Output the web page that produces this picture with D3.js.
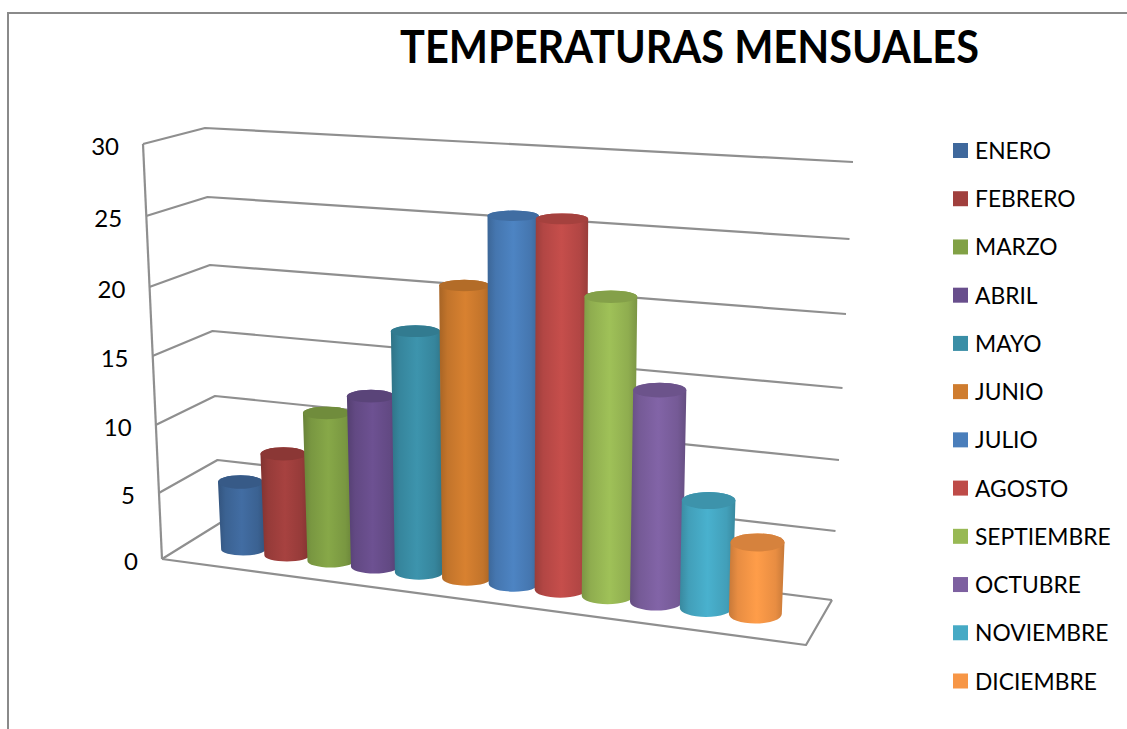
<!DOCTYPE html>
<html lang="es">
<head>
<meta charset="utf-8">
<title>Temperaturas mensuales</title>
<script src="https://cdn.jsdelivr.net/npm/d3@7"></script>
<style>
  html, body { margin: 0; padding: 0; background: #fff; }
  svg { display: block; }
  text { font-family: Lato, "Open Sans", sans-serif; fill: #000; }
</style>
</head>
<body>
<svg id="chart" width="1127" height="729"></svg>
<script>
// Chart content
const chartTitle = "TEMPERATURAS MENSUALES";
const months = ["ENERO", "FEBRERO", "MARZO", "ABRIL", "MAYO", "JUNIO", "JULIO",
                "AGOSTO", "SEPTIEMBRE", "OCTUBRE", "NOVIEMBRE", "DICIEMBRE"];
const temperatures = [5, 7.45, 10.8, 12.35, 17.35, 20.9, 26.1, 26.1, 20.9, 14.7, 7.4, 4.9];
const yTicks = [0, 5, 10, 15, 20, 25, 30];
const seriesColors = ["#3F689C", "#A03F3D", "#81A145", "#684E8C", "#3A8EA6", "#CF7C2E",
                      "#4A7EBB", "#BE4B48", "#98B954", "#7D60A0", "#46AAC5", "#F79646"];

const svg = d3.select("#chart");
const defs = svg.append("defs");
const wallStroke = "#8f8f8f";

// Outer frame of the chart area: only the top and left sides show
svg.append("path")
  .attr("d", "M8,729V13H1127")
  .attr("fill", "none").attr("stroke", "#8a8a8a").attr("stroke-width", 2);

svg.append("text")
  .attr("x", 400).attr("y", 63)
  .attr("font-size", 45).attr("font-weight", 700)
  .attr("textLength", 579).attr("lengthAdjust", "spacingAndGlyphs")
  .text(chartTitle);

// The box seen in perspective: each wall corner has its own value scale
const frontX = d3.scaleLinear().domain([0, 30]).range([162, 143]);
const frontY = d3.scaleLinear().domain(yTicks).range([559, 493, 425, 356, 287, 216, 144]);
const backX  = d3.scaleLinear().domain([0, 30]).range([220, 205]);
const backY  = d3.scaleLinear().domain(yTicks).range([523, 460, 396, 331, 265, 197, 128]);
const rightX = d3.scaleLinear().domain([0, 30]).range([832, 853]);
const rightY = d3.scaleLinear().domain(yTicks).range([600, 531, 460, 388, 314, 239, 162]);

const gridLine = d3.line();
const grid = svg.append("g")
  .attr("fill", "none").attr("stroke", wallStroke).attr("stroke-width", 2.2)
  .attr("stroke-linejoin", "round");

grid.selectAll("path.tick").data(yTicks).join("path")
  .attr("class", "tick")
  .attr("d", v => gridLine([[frontX(v), frontY(v)], [backX(v), backY(v)], [rightX(v), rightY(v)]]));

// Front upright of the side wall, and the two open edges of the floor
grid.append("path")
  .attr("d", gridLine([[frontX(30), frontY(30)], [frontX(0), frontY(0)]]));
const floorCorner = [806, 645];
grid.append("path")
  .attr("d", gridLine([[frontX(0), frontY(0)], floorCorner, [rightX(0), rightY(0)]]));

// Value labels sit a fixed distance left of the upright
svg.append("g").selectAll("text").data(yTicks).join("text")
  .attr("x", v => frontX(v) - 24)
  .attr("y", v => frontY(v) + 10.5)
  .attr("text-anchor", "end")
  .attr("font-size", 24)
  .text(d => d);

// Cylinder placement along the floor, with foreshortening towards the left
const position = d3.scaleLinear().domain([0, 2, 4, 7, 11]).range([240.5, 326.5, 415.5, 562, 757.5]);
const radius   = d3.scaleLinear().domain([0, 7, 11]).range([22.5, 26.2, 27]);
const baseY    = d3.scaleLinear().domain([0, 7, 11]).range([549.5, 589.5, 614]);
const unit     = d3.scaleLinear().domain([0, 11]).range([13.5, 14.6]);
const lean     = d3.scaleLinear().domain([0, 11]).range([0.04, -0.03]);
const rimBase  = d3.scaleLinear().domain([0, 11]).range([7.3, 9.7]);
const rimSlope = d3.scaleLinear().domain([0, 30]).range([0, 3.9]);
const bottomRim = d3.scaleLinear().domain([0, 11]).range([6, 9.5]);

months.forEach((m, i) => {
  const base = d3.color(seriesColors[i]);
  const grad = defs.append("linearGradient").attr("id", "side-" + i);
  [[0, base.darker(0.6)], [0.16, base.darker(0.18)], [0.5, base.brighter(0.12)],
   [0.84, base.darker(0.18)], [1, base.darker(0.6)]].forEach(([o, c]) => {
    grad.append("stop").attr("offset", o).attr("stop-color", c.formatHex());
  });
});

const bars = svg.append("g").selectAll("g")
  .data(months.map((m, i) => ({ month: m, value: temperatures[i], i })))
  .join("g");

bars.append("path")
  .attr("fill", d => `url(#side-${d.i})`)
  .attr("d", d => {
    const value = d3.scaleLinear().domain([0, 30]).range([baseY(d.i), baseY(d.i) - 30 * unit(d.i)]);
    const h = baseY(d.i) - value(d.value);
    const r = radius(d.i), cx = position(d.i);
    const rb = r * 0.98, cxb = cx + lean(d.i) * h;
    const ryTop = rimBase(d.i) - rimSlope(d.value), ryBot = bottomRim(d.i);
    return `M${cx - r},${value(d.value)}` +
      `L${cxb - rb},${baseY(d.i)}` +
      `A${rb},${ryBot} 0 0 0 ${cxb + rb},${baseY(d.i)}` +
      `L${cx + r},${value(d.value)}` +
      `A${r},${ryTop} 0 0 0 ${cx - r},${value(d.value)}Z`;
  });

bars.append("ellipse")
  .attr("fill", d => d3.color(seriesColors[d.i]).darker(0.4).formatHex())
  .attr("cx", d => position(d.i))
  .attr("cy", d => baseY(d.i) - d.value * unit(d.i))
  .attr("rx", d => radius(d.i))
  .attr("ry", d => rimBase(d.i) - rimSlope(d.value));

// Legend column
const legendY = d3.scalePoint().domain(months).range([150.5, 681]);
const legend = svg.append("g").selectAll("g").data(months).join("g")
  .attr("transform", m => `translate(953,${legendY(m)})`);
legend.append("rect")
  .attr("y", -7.5).attr("width", 15).attr("height", 15)
  .attr("fill", (m, i) => seriesColors[i]);
legend.append("text")
  .attr("x", 22).attr("y", 8.5)
  .attr("font-size", 22.8)
  .text(m => m);
</script>
</body>
</html>
